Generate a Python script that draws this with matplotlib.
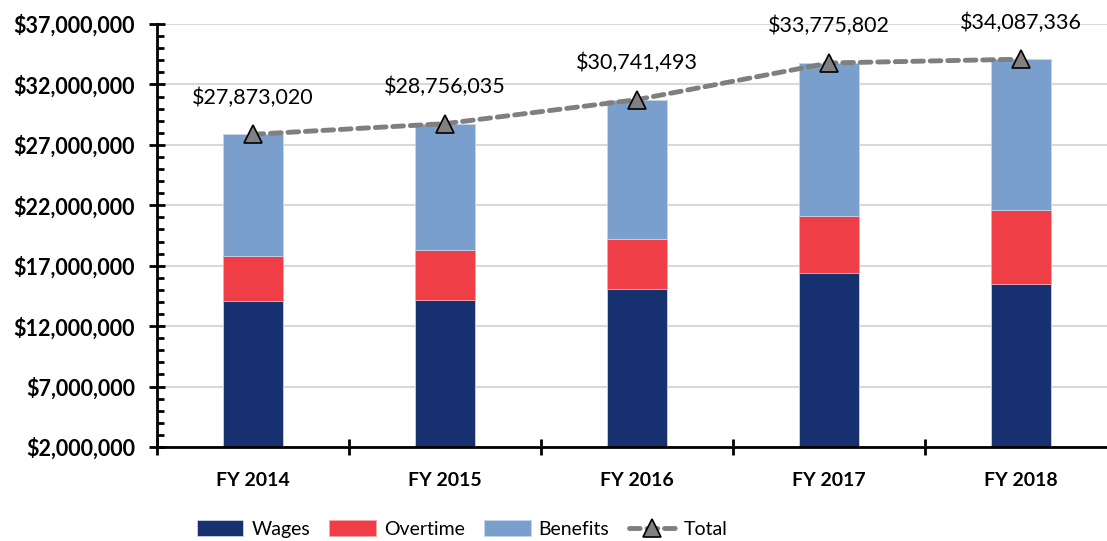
import matplotlib.pyplot as plt
import matplotlib.ticker as mticker
import numpy as np

plt.rcParams['font.family'] = ['Lato', 'DejaVu Sans']

# Data
years = ["FY 2014", "FY 2015", "FY 2016", "FY 2017", "FY 2018"]
wages = [14070000, 14150000, 15060000, 16390000, 15480000]
overtime = [3760000, 4150000, 4170000, 4690000, 6110000]
total = [27873020, 28756035, 30741493, 33775802, 34087336]
benefits = [t - w - o for t, w, o in zip(total, wages, overtime)]

c_wages = "#17306f"
c_over = "#ef3e45"
c_ben = "#7a9fcd"
c_line = "#7f7f7f"

fig = plt.figure(figsize=(11.07, 5.41), dpi=100)
ax = fig.add_axes([157 / 1107, 1 - 447 / 541, 960 / 1107, 423 / 541])

x = np.arange(len(years))
bw = 0.31
ax.bar(x, wages, bw, color=c_wages, edgecolor="#c9d3e6", linewidth=0.6, label="Wages", zorder=2)
ax.bar(x, overtime, bw, bottom=wages, color=c_over, edgecolor="#f6a6aa", linewidth=0.6,
       label="Overtime", zorder=2)
bot = [w + o for w, o in zip(wages, overtime)]
ax.bar(x, benefits, bw, bottom=bot, color=c_ben, edgecolor="#c5d5ea", linewidth=0.6,
       label="Benefits", zorder=2)

ax.plot(x, total, color=c_line, linestyle=(0, (2.2, 1.4)), linewidth=3.5, marker="^",
        markersize=13, markerfacecolor="#808080", markeredgecolor="black",
        markeredgewidth=1.2, label="Total", zorder=3, dash_capstyle="round")

for xi, t in zip(x, total):
    ax.annotate("${:,.0f}".format(t), (xi, t), xytext=(0, 19), textcoords="offset points",
                ha="center", va="bottom", fontsize=15.5)

ax.set_xlim(-0.5, 4.5)
ax.set_ylim(2000000, 37000000)
ax.yaxis.set_major_locator(mticker.MultipleLocator(5000000, offset=2000000))
ax.yaxis.set_minor_locator(mticker.MultipleLocator(1000000))
ax.yaxis.set_major_formatter(mticker.FuncFormatter(lambda v, p: "${:,.0f}".format(v)))
ax.grid(axis="y", which="major", color="#d9d9d9", linewidth=1.5, zorder=0)
ax.set_axisbelow(True)

ax.set_xticks(x)
ax.set_xticklabels(years, fontweight="bold", fontsize=14)
ax.set_xticks(np.arange(-0.5, 5, 1), minor=True)
ax.tick_params(axis="x", which="major", length=0, pad=18)
ax.tick_params(axis="x", which="minor", direction="inout", length=12, width=2)
ax.tick_params(axis="y", which="major", direction="inout", length=12, width=2, labelsize=15.5,
               pad=10)
ax.tick_params(axis="y", which="minor", direction="in", length=5, width=2)
for lab in ax.get_yticklabels():
    lab.set_fontweight("bold")

for s in ["top", "right"]:
    ax.spines[s].set_visible(False)
for s in ["left", "bottom"]:
    ax.spines[s].set_linewidth(2)

handles, labels = ax.get_legend_handles_labels()
order = [labels.index(n) for n in ["Wages", "Overtime", "Benefits", "Total"]]
fig.legend([handles[i] for i in order], [labels[i] for i in order],
           loc="center", bbox_to_anchor=(462 / 1107, 1 - 529 / 541), ncol=4, frameon=False,
           fontsize=14, handlelength=2.4, handleheight=0.9, columnspacing=1.0,
           handletextpad=0.4)

fig.savefig("out.png", dpi=100)
